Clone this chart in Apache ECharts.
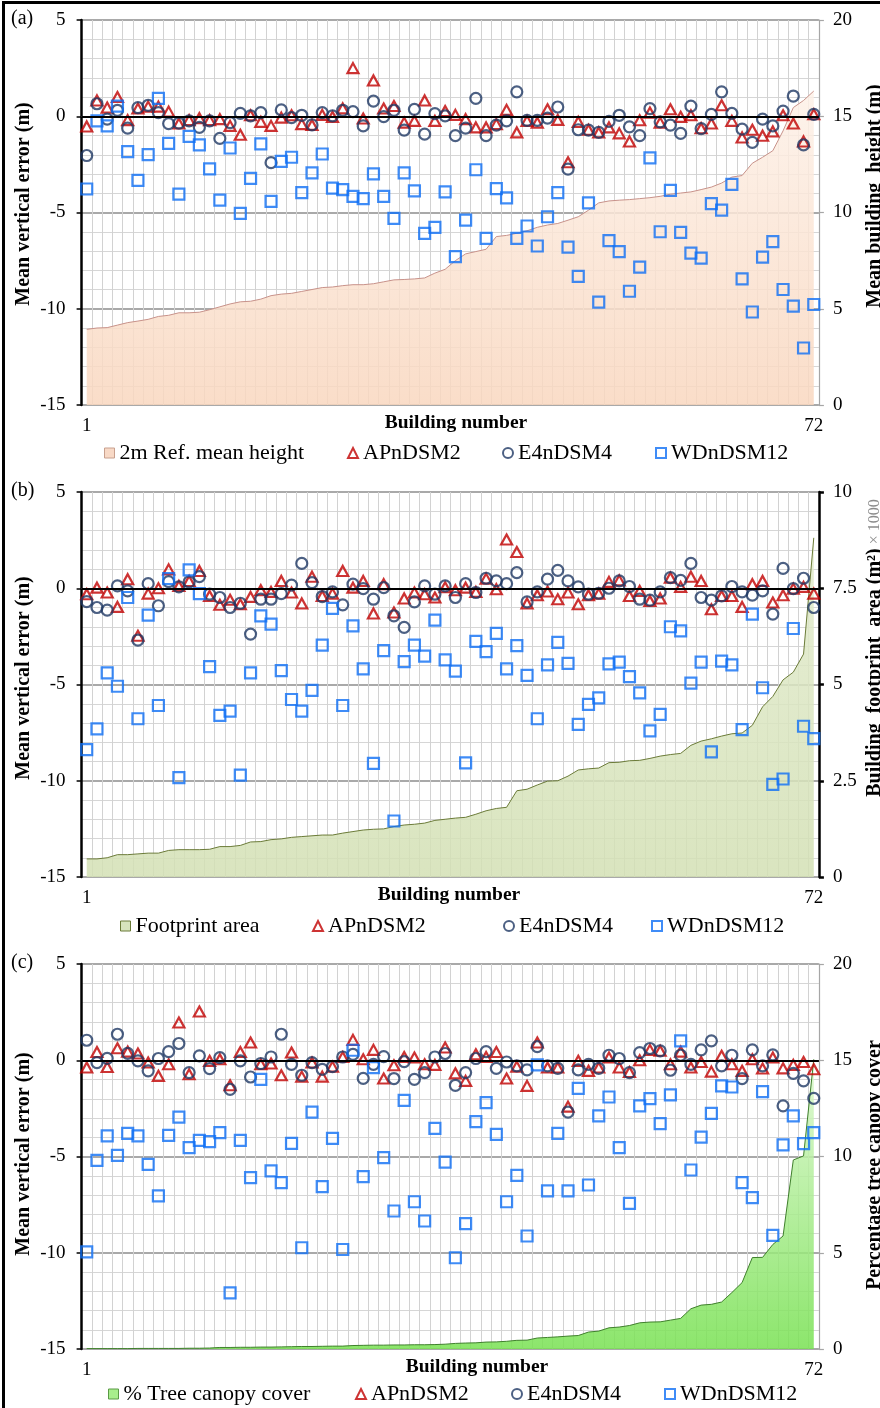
<!DOCTYPE html>
<html>
<head>
<meta charset="utf-8">
<script src="https://cdn.jsdelivr.net/npm/echarts@6/dist/echarts.min.js"></script>
<style>
html, body { margin: 0; padding: 0; background: #fff; overflow: hidden; }
#chart { width: 880px; height: 1408px; }
#frame { position: absolute; left: 2px; top: 1px; width: 900px; height: 1430px;
  border-left: 3px solid #000; border-top: 3px solid #000; pointer-events: none; }
</style>
</head>
<body>
<div id="chart"></div>
<div id="frame"></div>
<script>
// building numbers 1..72
const buildings = [];
for (let i = 1; i <= 72; i++) buildings.push(String(i));

// (a) errors vs. mean building height
const apA = [-0.53,0.82,0.45,1.0,-0.2,0.4,0.5,0.5,0.24,-0.38,-0.2,-0.1,-0.2,-0.15,-0.5,-0.96,0.05,-0.29,-0.5,-0.07,0.05,-0.41,-0.45,0.07,-0.03,0.41,2.5,-0.12,1.86,0.4,0.53,-0.33,-0.24,0.82,-0.24,0.27,0.07,-0.15,-0.58,-0.58,-0.41,0.33,-0.84,-0.24,-0.33,0.36,-0.19,-2.39,-0.29,-0.7,-0.84,-0.58,-0.89,-1.31,-0.21,0.19,-0.33,0.36,-0.03,0.05,-0.62,-0.38,0.57,-0.24,-1.1,-0.7,-1.01,-0.79,0.05,-0.38,-1.31,0.1];
const e4A = [-2.04,0.65,-0.15,0.31,-0.62,0.45,0.57,0.19,-0.38,-0.36,-0.24,-0.58,-0.24,-1.15,-0.33,0.15,0.02,0.19,-2.41,0.33,-0.07,0.05,-0.45,0.19,0.02,0.31,0.24,-0.5,0.79,-0.02,0.31,-0.72,0.36,-0.93,0.14,0.02,-1.01,-0.62,0.93,-1.01,-0.46,-0.24,1.27,-0.21,-0.21,-0.1,0.48,-2.75,-0.7,-0.72,-0.84,-0.27,0.05,-0.55,-1.01,0.4,-0.29,-0.46,-0.89,0.53,-0.64,0.1,1.27,0.15,-0.67,-1.36,-0.15,-0.5,0.27,1.05,-1.49,0.1];
const wdA = [-3.78,-0.24,-0.5,0.53,-1.84,-3.33,-1.99,0.93,-1.41,-4.05,-1.05,-1.49,-2.73,-4.36,-1.65,-5.05,-3.23,-1.44,-4.42,-2.34,-2.13,-3.97,-2.94,-1.96,-3.73,-3.81,-4.16,-4.28,-2.99,-4.16,-5.31,-2.94,-3.88,-6.08,-5.77,-3.93,-7.29,-5.4,-2.78,-6.34,-3.76,-4.24,-6.34,-5.7,-6.74,-5.22,-3.97,-6.8,-8.32,-4.5,-9.66,-6.46,-7.03,-9.09,-7.84,-2.16,-6.0,-3.85,-6.03,-7.11,-7.37,-4.54,-4.88,-3.54,-8.45,-10.17,-7.32,-6.51,-9.0,-9.86,-12.04,-9.78];
const heightA = [3.93,4.0,4.02,4.15,4.28,4.36,4.45,4.6,4.66,4.79,4.79,4.82,4.95,5.1,5.25,5.36,5.39,5.5,5.68,5.76,5.8,5.9,6.0,6.1,6.13,6.2,6.25,6.25,6.3,6.4,6.5,6.52,6.55,6.6,6.85,7.05,7.5,7.85,7.97,8.09,8.75,8.81,8.92,9.05,9.23,9.35,9.43,9.6,9.78,10.12,10.5,10.6,10.64,10.67,10.72,10.77,10.84,10.95,11.01,11.07,11.19,11.32,11.53,11.84,11.92,12.56,12.87,13.21,14.24,15.45,15.82,16.31];

// (b) errors vs. footprint area (x 1000 m2)
const apB = [-0.31,0.03,-0.22,-0.97,0.47,-2.47,-0.28,0,0.98,0.12,0.38,0.9,-0.4,-0.86,-0.6,-0.83,-0.45,-0.1,-0.19,0.38,-0.22,-0.79,0.6,-0.4,-0.28,0.9,0.03,0.38,-1.31,0.21,-1.26,-0.53,-0.22,-0.31,-0.48,0.05,-0.1,0.03,-0.19,0.5,-0.05,2.53,1.88,-0.79,-0.36,-0.17,-0.57,-0.22,-0.83,-0.36,-0.28,0.33,0.41,-0.4,-0.14,-0.66,-0.53,0.55,0.07,0.6,0.38,-1.09,-0.4,-0.4,-0.97,0.21,0.38,-0.74,-0.36,-0.02,0.07,-0.28];
const e4B = [-0.69,-1.0,-1.14,0.12,-0.14,-2.69,0.24,-0.91,0.34,0.07,0.33,0.6,-0.31,-0.48,-1.0,-0.78,-2.38,-0.57,-0.57,-0.28,0.16,1.29,0.29,-0.43,-0.19,-0.86,0.21,-0.02,-0.57,0.03,-1.43,-2.03,-0.71,0.12,-0.31,0.12,-0.48,0.24,-0.22,0.52,0.38,0.24,0.81,-0.71,-0.19,0.47,0.93,0.38,0.07,-0.31,-0.26,0,0.38,0.09,-0.57,-0.62,-0.19,0.55,0.41,1.29,-0.48,-0.62,-0.4,0.09,-0.19,-0.36,-0.14,-1.34,1.03,-0.02,0.52,-1.0];
const wdB = [-8.38,-7.31,-4.4,-5.09,-0.48,-6.78,-1.4,-6.09,0.5,-9.84,0.95,-0.28,-4.07,-6.6,-6.38,-9.71,-4.4,-1.43,-1.86,-4.28,-5.78,-6.38,-5.31,-2.95,-1.05,-6.09,-1.95,-4.19,-9.1,-3.24,-12.09,-3.81,-2.95,-3.53,-1.66,-3.72,-4.31,-9.07,-2.76,-3.29,-2.34,-4.19,-2.98,-4.53,-6.78,-3.98,-2.81,-3.9,-7.07,-6.03,-5.69,-3.93,-3.84,-4.59,-5.43,-7.41,-6.55,-2.0,-2.21,-4.93,-3.84,-8.5,-3.79,-3.98,-7.34,-1.34,-5.17,-10.19,-9.91,-2.09,-7.17,-7.81];
const footprintB = [0.47,0.47,0.5,0.58,0.58,0.6,0.62,0.62,0.69,0.71,0.71,0.71,0.72,0.79,0.79,0.82,0.91,0.92,0.97,0.99,1.03,1.05,1.07,1.09,1.09,1.14,1.18,1.22,1.24,1.25,1.31,1.35,1.37,1.4,1.47,1.5,1.53,1.55,1.63,1.72,1.78,1.81,2.24,2.28,2.39,2.49,2.5,2.62,2.78,2.81,2.83,2.97,2.98,3.02,3.03,3.08,3.14,3.18,3.21,3.42,3.53,3.59,3.66,3.72,3.74,3.94,4.42,4.69,5.12,5.32,5.79,8.81];

// (c) errors vs. tree canopy cover (%)
const apC = [-0.38,0.43,-0.35,0.62,0.45,0.35,-0.12,-0.81,-0.21,1.96,-0.73,2.53,-0.03,0.05,-1.3,0.43,0.92,-0.21,-0.17,-0.78,0.4,-0.85,-0.12,-0.85,-0.33,0.17,1.06,0.05,0.54,-0.95,-0.26,0.17,0.14,-0.21,-0.24,0.66,-0.68,-1.07,0.31,0.17,0.43,-0.95,-0.33,-1.33,0.92,-0.38,-0.38,-2.41,-0.03,-0.55,-0.38,0.14,-0.38,-0.61,0,0.54,0.49,-0.21,0.45,-0.38,-0.09,-0.59,0.23,-0.21,-0.55,0.05,-0.43,0.14,-0.42,-0.24,-0.09,-0.47];
const e4C = [1.04,-0.12,0.1,1.35,0.36,-0.03,-0.55,0.09,0.45,0.87,-0.64,0.23,-0.43,0.14,-1.51,-0.03,-0.87,-0.17,0.17,1.35,-0.21,-0.78,-0.12,-0.47,-0.33,0.17,0.31,-0.94,-0.21,0.19,-0.95,-0.07,-0.99,-0.64,0.17,0.35,-1.3,-0.64,0.09,0.45,-0.42,-0.09,-0.29,-0.5,0.71,-0.29,-0.42,-2.69,-0.5,-0.21,-0.42,0.26,0.09,-0.64,0.4,0.61,0.49,-0.52,0.26,-0.21,0.54,1.01,-0.29,0.26,-0.95,0.54,-0.29,0.28,-2.37,-0.68,-1.07,-1.98];
const wdC = [-9.95,-5.2,-3.93,-4.94,-3.8,-3.93,-5.41,-7.05,-3.9,-2.95,-4.54,-4.16,-4.23,-3.76,-12.08,-4.16,-6.1,-0.99,-5.75,-6.36,-4.32,-9.74,-2.69,-6.57,-4.06,-9.83,0.52,-6.05,-0.38,-5.06,-7.83,-2.08,-7.35,-8.35,-3.54,-5.29,-10.26,-8.49,-3.19,-2.2,-3.85,-7.35,-5.98,-9.13,-0.24,-6.79,-3.8,-6.79,-1.46,-6.48,-2.89,-1.91,-4.54,-7.44,-2.37,-1.99,-3.29,-1.8,1.01,-5.7,-3.99,-2.76,-1.33,-1.39,-6.36,-7.14,-1.63,-9.1,-4.4,-2.89,-4.33,-3.76];
const canopyC = [0.02,0.02,0.02,0.02,0.02,0.03,0.03,0.03,0.03,0.03,0.04,0.04,0.05,0.08,0.08,0.09,0.09,0.1,0.1,0.11,0.12,0.13,0.13,0.14,0.15,0.15,0.18,0.19,0.2,0.2,0.21,0.21,0.22,0.22,0.23,0.25,0.29,0.31,0.32,0.36,0.37,0.4,0.45,0.46,0.57,0.6,0.63,0.67,0.7,0.88,0.93,1.1,1.14,1.22,1.36,1.4,1.41,1.5,1.59,2.09,2.28,2.32,2.44,2.93,3.45,4.75,4.76,5.43,5.87,9.82,10.03,15.05];

const FONT = '"Liberation Serif", "Times New Roman", serif';
const AP_COLOR = '#c00000', E4_COLOR = '#1f3864', WD_COLOR = '#0f6ff5';
const MARK_W = 2.2;

const panels = [
  { tag: '(a)', top: 20, area: heightA, ap: apA, e4: e4A, wd: wdA,
    areaName: '2m Ref. mean height', rmax: 20, rint: 5,
    rightAxisColor: '#a6a6a6', rightAxisWidth: 1.2,
    fill: ['#fdf1e8', '#f9d7bf'], stroke: '#c8928a', legendIcon: '#f8d9c6', legendBorder: '#c8a08e',
    rightTitle: 'Mean building  height (m)', rightTitleY: 196,
    leftTitleY: 204, xTitleX: 456, legendTop: 442, legendLeft: [104, 347, 502, 655] },
  { tag: '(b)', top: 492, area: footprintB, ap: apB, e4: e4B, wd: wdB,
    areaName: 'Footprint area', rmax: 10, rint: 2.5,
    rightAxisColor: '#000', rightAxisWidth: 2.5,
    fill: ['#e2ebcd', '#d3e0b4'], stroke: '#6b7b38', legendIcon: '#d7e4bd', legendBorder: '#6b7b38',
    rightTitle: null, rightTitleY: 648,
    leftTitleY: 678, xTitleX: 449, legendTop: 915, legendLeft: [120, 312, 503, 651] },
  { tag: '(c)', top: 964, area: canopyC, ap: apC, e4: e4C, wd: wdC,
    areaName: '% Tree canopy cover', rmax: 20, rint: 5,
    rightAxisColor: '#a6a6a6', rightAxisWidth: 1.2,
    fill: ['#ddf8cf', '#78e152'], stroke: '#3f7f2c', legendIcon: '#a8ee8c', legendBorder: '#5a9a45',
    rightTitle: 'Percentage tree canopy cover', rightTitleY: 1165,
    leftTitleY: 1154, xTitleX: 477, legendTop: 1383, legendLeft: [108, 355, 511, 664] }
];

const grid = [], xAxis = [], yAxis = [], series = [], legend = [], graphic = [];

panels.forEach((p, g) => {
  grid.push({ left: 81.6, width: 737.3, top: p.top, height: 385 });

  xAxis.push({
    type: 'category', gridIndex: g, data: buildings, boundaryGap: true,
    axisLine: { lineStyle: { color: '#8c8c8c', width: 1 } },
    axisTick: { show: false },
    axisLabel: {
      interval: 0, margin: 12, fontFamily: FONT, fontSize: 19, color: '#000',
      formatter: (v, i) => (i === 0 || i === buildings.length - 1) ? v : ''
    },
    splitLine: { show: true, interval: 0, lineStyle: { color: '#d2d2d2', width: 1 } }
  });

  yAxis.push({
    type: 'value', gridIndex: g, position: 'left', min: -15, max: 5, interval: 5,
    axisLine: { show: true, lineStyle: { color: '#000', width: 2.5 } },
    axisTick: { show: true, length: 5, lineStyle: { color: '#000', width: 1.5 } },
    axisLabel: { margin: 16, fontFamily: FONT, fontSize: 19, color: '#000' },
    splitLine: { show: true, lineStyle: { color: '#8c8c8c', width: 1.5 } },
    minorTick: { show: false, splitNumber: 5 },
    minorSplitLine: { show: true, lineStyle: { color: '#d6d6d6', width: 1 } }
  });
  yAxis.push({
    type: 'value', gridIndex: g, position: 'right', min: 0, max: p.rmax, interval: p.rint,
    axisLine: { show: true, lineStyle: { color: p.rightAxisColor, width: p.rightAxisWidth } },
    axisTick: { show: true, length: 5, lineStyle: { color: p.rightAxisColor, width: p.rightAxisWidth } },
    axisLabel: { margin: 14, fontFamily: FONT, fontSize: 19, color: '#000' },
    splitLine: { show: false }
  });

  series.push({
    name: p.areaName, type: 'line', xAxisIndex: g, yAxisIndex: 2 * g + 1,
    data: p.area, symbol: 'none', z: 1,
    color: p.legendIcon,
    lineStyle: { color: p.stroke, width: 1 },
    areaStyle: {
      opacity: 0.85,
      color: new echarts.graphic.LinearGradient(0, 0, 0, 1, [
        { offset: 0, color: p.fill[0] }, { offset: 1, color: p.fill[1] }])
    }
  });
  series.push({
    name: 'APnDSM2', type: 'scatter', xAxisIndex: g, yAxisIndex: 2 * g,
    data: p.ap, symbol: 'triangle', symbolSize: [11, 10], z: 3,
    itemStyle: { color: 'rgba(255,255,255,0)', borderColor: AP_COLOR, borderWidth: MARK_W },
    markLine: {
      silent: true, symbol: 'none', label: { show: false }, animation: false,
      lineStyle: { color: '#000', width: 2, type: 'solid' },
      data: [{ yAxis: 0 }]
    }
  });
  series.push({
    name: 'E4nDSM4', type: 'scatter', xAxisIndex: g, yAxisIndex: 2 * g,
    data: p.e4, symbol: 'circle', symbolSize: 11, z: 3,
    itemStyle: { color: 'rgba(255,255,255,0)', borderColor: E4_COLOR, borderWidth: MARK_W }
  });
  series.push({
    name: 'WDnDSM12', type: 'scatter', xAxisIndex: g, yAxisIndex: 2 * g,
    data: p.wd, symbol: 'rect', symbolSize: 11, z: 3,
    itemStyle: { color: 'rgba(255,255,255,0)', borderColor: WD_COLOR, borderWidth: MARK_W }
  });

  const items = [
    { name: p.areaName, icon: 'rect', itemStyle: { color: p.legendIcon, borderColor: p.legendBorder, borderWidth: 1 } },
    { name: 'APnDSM2', icon: 'triangle', itemStyle: { color: 'rgba(255,255,255,0)', borderColor: AP_COLOR, borderWidth: 2 } },
    { name: 'E4nDSM4', icon: 'circle', itemStyle: { color: 'rgba(255,255,255,0)', borderColor: E4_COLOR, borderWidth: 2 } },
    { name: 'WDnDSM12', icon: 'rect', itemStyle: { color: 'rgba(255,255,255,0)', borderColor: WD_COLOR, borderWidth: 2 } }
  ];
  items.forEach((it, k) => {
    legend.push({
      data: [it], left: p.legendLeft[k], top: p.legendTop, padding: 0,
      itemWidth: 10, itemHeight: 10, itemGap: 5, selectedMode: false,
      textStyle: { fontFamily: FONT, fontSize: 22, color: '#000' }
    });
  });

  // panel tag, titles
  graphic.push({ type: 'text', left: 11, top: p.top - 11,
    style: { text: p.tag, font: '20px ' + FONT, fill: '#000' } });
  graphic.push({ type: 'text', x: 24, y: p.leftTitleY, rotation: Math.PI / 2,
    style: { text: 'Mean vertical error (m)', font: 'bold 20px ' + FONT, fill: '#000',
      align: 'center', verticalAlign: 'middle', textAlign: 'center', textVerticalAlign: 'middle' } });
  graphic.push({ type: 'text', x: p.xTitleX, y: p.top + 403,
    style: { text: 'Building number', font: 'bold 19.5px ' + FONT, fill: '#000',
      align: 'center', verticalAlign: 'middle', textAlign: 'center', textVerticalAlign: 'middle' } });
  if (p.rightTitle) {
    graphic.push({ type: 'text', x: 875, y: p.rightTitleY, rotation: Math.PI / 2,
      style: { text: p.rightTitle, font: 'bold 20px ' + FONT, fill: '#000',
        align: 'center', verticalAlign: 'middle', textAlign: 'center', textVerticalAlign: 'middle' } });
  } else {
    graphic.push({ type: 'text', x: 875, y: p.rightTitleY, rotation: Math.PI / 2,
      style: { text: '{b|Building  footprint  area (m²)}{g| × 1000}',
        align: 'center', verticalAlign: 'middle', textAlign: 'center', textVerticalAlign: 'middle',
        rich: {
          b: { fontFamily: FONT, fontWeight: 'bold', fontSize: 20, fill: '#000', color: '#000' },
          g: { fontFamily: FONT, fontSize: 16, fill: '#8c8c8c', color: '#8c8c8c' }
        } } });
  }
});

const chart = echarts.init(document.getElementById('chart'), null, { renderer: 'canvas' });
chart.setOption({
  animation: false,
  backgroundColor: '#fff',
  grid, xAxis, yAxis, series, legend, graphic
});
</script>
</body>
</html>
